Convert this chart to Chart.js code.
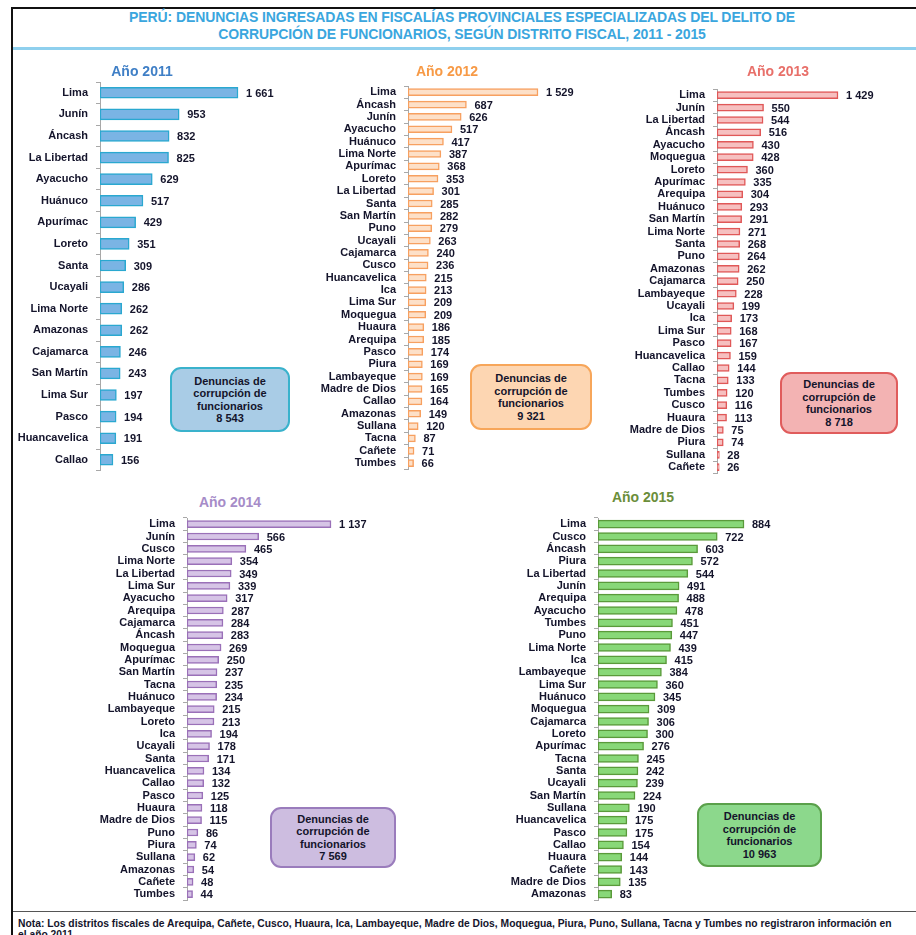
<!DOCTYPE html>
<html lang="es">
<head>
<meta charset="utf-8">
<script src="https://cdn.jsdelivr.net/npm/chart.js@4.4.1/dist/chart.umd.min.js"></script>
<style>
  body { margin: 0; background: #fff; width: 916px; height: 935px; position: relative; overflow: hidden;
         font-family: 'Liberation Sans', Arial, sans-serif; }
  .frame { position: absolute; left: 11px; top: 7px; width: 905px; height: 940px; border: 2px solid #111; border-right: none; box-sizing: border-box; }
  .title { position: absolute; left: 12px; width: 900px; text-align: center; color: #3aa6de; font-weight: bold;
           font-size: 14px; letter-spacing: -0.1px; }
  .rule { position: absolute; left: 13px; width: 903px; top: 47px; height: 3px; background: #8fd0ee; }
  .year { position: absolute; font-weight: bold; font-size: 14px; transform: translateX(-50%); white-space: nowrap; }
  .box { position: absolute; box-sizing: border-box; border-radius: 11px; border: 2px solid; text-align: center;
         font-weight: bold; font-size: 11px; line-height: 12.5px; color: #14142b; display: flex; align-items: center; justify-content: center; }
  canvas { position: absolute; }
  .bottomline { position: absolute; left: 13px; width: 903px; top: 911px; height: 1px; background: #555; }
  .note { position: absolute; left: 18px; top: 918px; width: 874px; font-size: 10.3px; line-height: 11px; font-weight: bold; color: #14142b; }
</style>
</head>
<body>
<div class="frame"></div>
<div class="title" style="top:9px">PERÚ: DENUNCIAS INGRESADAS EN FISCALÍAS PROVINCIALES ESPECIALIZADAS DEL DELITO DE</div>
<div class="title" style="top:26px">CORRUPCIÓN DE FUNCIONARIOS, SEGÚN DISTRITO FISCAL, 2011 - 2015</div>
<div class="rule"></div>
<div id="panels"></div>
<div class="bottomline"></div>
<div class="note">Nota: Los distritos fiscales de Arequipa, Cañete, Cusco, Huaura, Ica, Lambayeque, Madre de Dios, Moquegua, Piura, Puno, Sullana, Tacna y Tumbes no registraron información en el año 2011.</div>

<script>
const distritos2011 = ['Lima', 'Junín', 'Áncash', 'La Libertad', 'Ayacucho', 'Huánuco', 'Apurímac', 'Loreto', 'Santa',
  'Ucayali', 'Lima Norte', 'Amazonas', 'Cajamarca', 'San Martín', 'Lima Sur', 'Pasco', 'Huancavelica', 'Callao'];
const denuncias2011 = [1661, 953, 832, 825, 629, 517, 429, 351, 309, 286, 262, 262, 246, 243, 197, 194, 191, 156];

const distritos2012 = ['Lima', 'Áncash', 'Junín', 'Ayacucho', 'Huánuco', 'Lima Norte', 'Apurímac', 'Loreto', 'La Libertad',
  'Santa', 'San Martín', 'Puno', 'Ucayali', 'Cajamarca', 'Cusco', 'Huancavelica', 'Ica', 'Lima Sur', 'Moquegua', 'Huaura',
  'Arequipa', 'Pasco', 'Piura', 'Lambayeque', 'Madre de Dios', 'Callao', 'Amazonas', 'Sullana', 'Tacna', 'Cañete', 'Tumbes'];
const denuncias2012 = [1529, 687, 626, 517, 417, 387, 368, 353, 301, 285, 282, 279, 263, 240, 236, 215, 213, 209, 209, 186,
  185, 174, 169, 169, 165, 164, 149, 120, 87, 71, 66];

const distritos2013 = ['Lima', 'Junín', 'La Libertad', 'Áncash', 'Ayacucho', 'Moquegua', 'Loreto', 'Apurímac', 'Arequipa',
  'Huánuco', 'San Martín', 'Lima Norte', 'Santa', 'Puno', 'Amazonas', 'Cajamarca', 'Lambayeque', 'Ucayali', 'Ica', 'Lima Sur',
  'Pasco', 'Huancavelica', 'Callao', 'Tacna', 'Tumbes', 'Cusco', 'Huaura', 'Madre de Dios', 'Piura', 'Sullana', 'Cañete'];
const denuncias2013 = [1429, 550, 544, 516, 430, 428, 360, 335, 304, 293, 291, 271, 268, 264, 262, 250, 228, 199, 173, 168,
  167, 159, 144, 133, 120, 116, 113, 75, 74, 28, 26];

const distritos2014 = ['Lima', 'Junín', 'Cusco', 'Lima Norte', 'La Libertad', 'Lima Sur', 'Ayacucho', 'Arequipa', 'Cajamarca',
  'Áncash', 'Moquegua', 'Apurímac', 'San Martín', 'Tacna', 'Huánuco', 'Lambayeque', 'Loreto', 'Ica', 'Ucayali', 'Santa',
  'Huancavelica', 'Callao', 'Pasco', 'Huaura', 'Madre de Dios', 'Puno', 'Piura', 'Sullana', 'Amazonas', 'Cañete', 'Tumbes'];
const denuncias2014 = [1137, 566, 465, 354, 349, 339, 317, 287, 284, 283, 269, 250, 237, 235, 234, 215, 213, 194, 178, 171,
  134, 132, 125, 118, 115, 86, 74, 62, 54, 48, 44];

const distritos2015 = ['Lima', 'Cusco', 'Áncash', 'Piura', 'La Libertad', 'Junín', 'Arequipa', 'Ayacucho', 'Tumbes', 'Puno',
  'Lima Norte', 'Ica', 'Lambayeque', 'Lima Sur', 'Huánuco', 'Moquegua', 'Cajamarca', 'Loreto', 'Apurímac', 'Tacna', 'Santa',
  'Ucayali', 'San Martín', 'Sullana', 'Huancavelica', 'Pasco', 'Callao', 'Huaura', 'Cañete', 'Madre de Dios', 'Amazonas'];
const denuncias2015 = [884, 722, 603, 572, 544, 491, 488, 478, 451, 447, 439, 415, 384, 360, 345, 309, 306, 300, 276, 245, 242,
  239, 224, 190, 175, 175, 154, 144, 143, 135, 83];

const totales = [8543, 9321, 8718, 7569, 10963];
const anios = ['Año 2011', 'Año 2012', 'Año 2013', 'Año 2014', 'Año 2015'];

const fmt = v => String(v).replace(/\B(?=(\d{3})+(?!\d))/g, ' ');
const FONT = "'Liberation Sans', Arial, sans-serif";
Chart.defaults.font.family = FONT;

// value labels at the end of each bar
const valueLabels = {
  id: 'valueLabels',
  afterDatasetsDraw(chart) {
    const ctx = chart.ctx;
    const meta = chart.getDatasetMeta(0);
    ctx.save();
    ctx.font = 'bold 11px ' + FONT;
    ctx.fillStyle = '#14142b';
    ctx.textBaseline = 'middle';
    meta.data.forEach((bar, i) => {
      ctx.fillText(fmt(chart.data.datasets[0].data[i]), bar.x + 8, bar.y + 1);
    });
    ctx.restore();
  }
};

// layout of each panel (pixel positions)
const panels = [
  { labels: distritos2011, values: denuncias2011, left: 10, width: 290, axisX: 100, firstY: 93, lastY: 460, barEnd: 238, bar: 11,
    fill: '#7ab4e4', border: '#2aa8d0', titleColor: '#3f7fc6', titleX: 142, titleY: 63,
    box: { x: 170, y: 367, w: 120, h: 65, fill: '#a9cce6', border: '#3ab2cc' } },
  { labels: distritos2012, values: denuncias2012, left: 300, width: 310, axisX: 408, firstY: 92, lastY: 463, barEnd: 538, bar: 7,
    fill: '#fde0c8', border: '#f7a060', titleColor: '#f79a46', titleX: 447, titleY: 63,
    box: { x: 470, y: 364, w: 122, h: 66, fill: '#fdd6b2', border: '#f7a65a' } },
  { labels: distritos2013, values: denuncias2013, left: 610, width: 306, axisX: 717, firstY: 95, lastY: 467, barEnd: 838, bar: 7,
    fill: '#f6c0c0', border: '#e05858', titleColor: '#e8706a', titleX: 778, titleY: 63,
    box: { x: 780, y: 372, w: 118, h: 62, fill: '#f3b3b3', border: '#e05c5c' } },
  { labels: distritos2014, values: denuncias2014, left: 80, width: 330, axisX: 187, firstY: 524, lastY: 894, barEnd: 331, bar: 7,
    fill: '#d6c4e6', border: '#9a70b8', titleColor: '#a68cc8', titleX: 230, titleY: 494,
    box: { x: 270, y: 807, w: 126, h: 61, fill: '#cdbde0', border: '#9a7cbc' } },
  { labels: distritos2015, values: denuncias2015, left: 480, width: 430, axisX: 598, firstY: 524, lastY: 894, barEnd: 744, bar: 8,
    fill: '#88d878', border: '#5a9a3a', titleColor: '#6b8e3a', titleX: 643, titleY: 489,
    box: { x: 697, y: 803, w: 125, h: 64, fill: '#8cd88c', border: '#5aa04a' } }
];

const host = document.getElementById('panels');
const PAD = 6;

panels.forEach((p, k) => {
  const n = p.labels.length;
  const sp = (p.lastY - p.firstY) / (n - 1);
  const top = p.firstY - sp / 2;
  const bottom = p.lastY + sp / 2;

  const canvas = document.createElement('canvas');
  canvas.width = p.width;
  canvas.height = Math.round(bottom - top + 2 * PAD);
  canvas.style.left = p.left + 'px';
  canvas.style.top = (top - PAD) + 'px';
  host.appendChild(canvas);

  const pxPerUnit = (p.barEnd - p.axisX) / p.values[0];
  const xMax = (p.left + p.width - p.axisX) / pxPerUnit;

  new Chart(canvas, {
    type: 'bar',
    data: {
      labels: p.labels,
      datasets: [{
        data: p.values,
        backgroundColor: p.fill,
        borderColor: p.border,
        borderWidth: 1.5,
        borderSkipped: false,
        barThickness: p.bar
      }]
    },
    options: {
      indexAxis: 'y',
      responsive: false,
      animation: false,
      layout: { padding: { top: PAD, bottom: canvas.height - PAD - (bottom - top) } },
      plugins: { legend: { display: false }, tooltip: { enabled: false } },
      scales: {
        x: { display: false, min: 0, max: xMax },
        y: {
          border: { display: true, color: '#a8a8a8', width: 1 },
          grid: { drawOnChartArea: false, drawTicks: true, tickLength: 4, color: '#a8a8a8', offset: true },
          ticks: { autoSkip: false, padding: 8, color: '#14142b', font: { size: 11, weight: 'bold' } },
          afterFit(s) {
            s.width = p.axisX - p.left;
            s.paddingTop = 0;
            s.paddingBottom = 0;
          }
        }
      }
    },
    plugins: [valueLabels]
  });

  const t = document.createElement('div');
  t.className = 'year';
  t.style.left = p.titleX + 'px';
  t.style.top = p.titleY + 'px';
  t.style.color = p.titleColor;
  t.textContent = anios[k];
  host.appendChild(t);

  const b = document.createElement('div');
  b.className = 'box';
  b.style.left = p.box.x + 'px';
  b.style.top = p.box.y + 'px';
  b.style.width = p.box.w + 'px';
  b.style.height = p.box.h + 'px';
  b.style.background = p.box.fill;
  b.style.borderColor = p.box.border;
  b.innerHTML = 'Denuncias de<br>corrupción de<br>funcionarios<br>' + fmt(totales[k]);
  host.appendChild(b);
});
</script>
</body>
</html>
